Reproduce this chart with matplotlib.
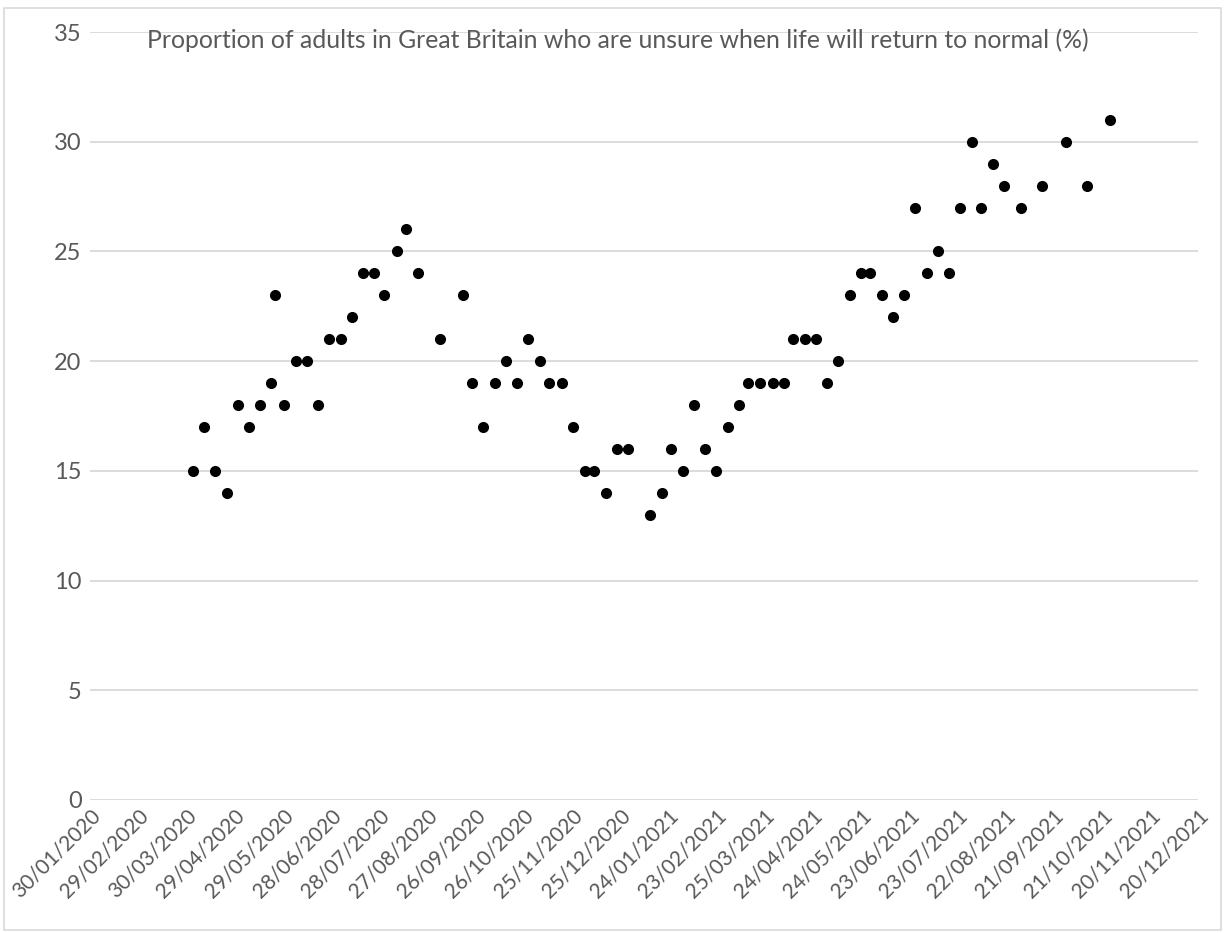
import pandas as pd
import matplotlib.pyplot as plt
import matplotlib.dates as mdates
from matplotlib.patches import Rectangle

plt.rcParams['font.family'] = ['Lato', 'DejaVu Sans']

# ONS Opinions and Lifestyle survey waves
survey_dates = [
    '2020-04-03', '2020-04-10', '2020-04-17', '2020-04-24', '2020-05-01',
    '2020-05-08', '2020-05-15', '2020-05-22', '2020-05-24', '2020-05-30',
    '2020-06-06', '2020-06-13', '2020-06-20', '2020-06-27', '2020-07-04',
    '2020-07-11', '2020-07-18', '2020-07-25', '2020-07-31', '2020-08-08',
    '2020-08-14', '2020-08-21', '2020-09-04', '2020-09-18', '2020-09-24',
    '2020-10-01', '2020-10-08', '2020-10-15', '2020-10-22', '2020-10-29',
    '2020-11-05', '2020-11-11', '2020-11-19', '2020-11-26', '2020-12-03',
    '2020-12-09', '2020-12-16', '2020-12-23', '2020-12-30', '2021-01-13',
    '2021-01-20', '2021-01-26', '2021-02-02', '2021-02-09', '2021-02-16',
    '2021-02-23', '2021-03-02', '2021-03-09', '2021-03-15', '2021-03-22',
    '2021-03-30', '2021-04-06', '2021-04-12', '2021-04-19', '2021-04-26',
    '2021-05-03', '2021-05-10', '2021-05-17', '2021-05-24', '2021-05-30',
    '2021-06-06', '2021-06-13', '2021-06-20', '2021-06-27', '2021-07-04',
    '2021-07-11', '2021-07-18', '2021-07-25', '2021-08-01', '2021-08-07',
    '2021-08-14', '2021-08-21', '2021-09-01', '2021-09-14', '2021-09-29',
    '2021-10-12', '2021-10-26',
]
unsure_pct = [
    15, 17, 15, 14, 18,
    17, 18, 19, 23, 18,
    20, 20, 18, 21, 21,
    22, 24, 24, 23, 25,
    26, 24, 21, 23, 19,
    17, 19, 20, 19, 21,
    20, 19, 19, 17, 15,
    15, 14, 16, 16, 13,
    14, 16, 15, 18, 16,
    15, 17, 18, 19, 19,
    19, 19, 21, 21, 21,
    19, 20, 23, 24, 24,
    23, 22, 23, 27, 24,
    25, 24, 27, 30, 27,
    29, 28, 27, 28, 30,
    28, 31,
]

x_start = '2020-01-30'
x_end = '2021-12-20'
tick_step_days = 30
y_ticks = [0, 5, 10, 15, 20, 25, 30, 35]
title = 'Proportion of adults in Great Britain who are unsure when life will return to normal (%)'

dates = pd.to_datetime(survey_dates)
tick_dates = pd.date_range(x_start, x_end, freq=f'{tick_step_days}D')

fig = plt.figure(figsize=(12.25, 9.33), dpi=100)
ax = fig.add_axes([0.0735, 0.1426, 0.9045, 0.8231])

ax.scatter(dates, unsure_pct, s=64, color='black', zorder=3, linewidths=0)

ax.set_xlim(pd.Timestamp(x_start), pd.Timestamp(x_end))
ax.set_ylim(0, 35)
ax.set_yticks(y_ticks)
ax.set_xticks(tick_dates)
ax.xaxis.set_major_formatter(mdates.DateFormatter('%d/%m/%Y'))

ax.grid(axis='y', color='#d9d9d9', linewidth=1.3, zorder=0)
ax.grid(axis='x', visible=False)
for s in ax.spines.values():
    s.set_visible(False)

ax.tick_params(axis='both', length=0, colors='#595959')
ax.tick_params(axis='y', labelsize=17, pad=6)
ax.tick_params(axis='x', labelsize=15, pad=4)
for lbl in ax.get_xticklabels():
    lbl.set_rotation(45)
    lbl.set_ha('right')
    lbl.set_va('top')
    lbl.set_rotation_mode('anchor')

# title sits over the top gridline, a little left of centre
fig.text(0.504, 0.957, title, ha='center', va='center',
         fontsize=17.8, color='#595959')

# thin chart border
fig.patches.append(Rectangle((0.003, 0.003), 0.994, 0.988, transform=fig.transFigure,
                             fill=False, edgecolor='#d9d9d9', linewidth=1.2))

fig.savefig('out.png', dpi=100, facecolor='white')
